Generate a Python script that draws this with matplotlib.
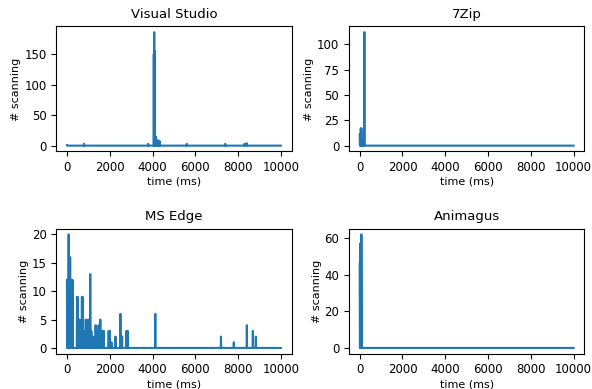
import numpy as np
import matplotlib
matplotlib.use("Agg")
import matplotlib.pyplot as plt

# spikes: (time in ms, number scanning); everything else is 0
vs_times = [0, 800, 3800, 4060, 4080, 4100, 4150, 4200, 4250, 4300, 4350, 5600, 7400, 8300, 8400]
vs_counts = [1, 3, 3, 150, 186, 155, 15, 10, 5, 8, 7, 3, 3, 3, 4]

zip_times = [0, 50, 80, 100, 150, 220]
zip_counts = [11, 17, 17, 5, 6, 112]

edge_times = [0, 20, 80, 150, 230, 260, 470, 500, 545, 590, 700, 730, 780, 875, 935, 1000,
              1090, 1120, 1140, 1220, 1280, 1340, 1400, 1480, 1560, 1640, 1720, 1950, 2000,
              2080, 2270, 2500, 2580, 2780, 2840, 4130, 7200, 7800, 8410, 8690, 8830]
edge_counts = [12, 5, 20, 16, 12, 12, 9, 9, 3, 5, 9, 9, 3, 5, 3, 5,
               13, 3, 3, 2, 1, 4, 3, 4, 5, 3, 3, 3, 3,
               1, 2, 6, 2, 3, 3, 6, 2, 1, 4, 3, 2]

ani_times = [0, 30, 60, 80]
ani_counts = [46, 57, 57, 62]

titles = ["Visual Studio", "7Zip", "MS Edge", "Animagus"]
spikes = [(vs_times, vs_counts), (zip_times, zip_counts),
          (edge_times, edge_counts), (ani_times, ani_counts)]
yticks = [[0, 50, 100, 150], [0, 25, 50, 75, 100], [0, 5, 10, 15, 20], [0, 20, 40, 60]]

t = np.arange(0, 10001, 10)

fig, axes = plt.subplots(2, 2, figsize=(5.92, 3.89), dpi=100)
for ax, title, (st, sc), yt in zip(axes.flat, titles, spikes, yticks):
    y = np.zeros(len(t))
    for ti, c in zip(st, sc):
        y[int(round(ti / 10))] = c
    ax.plot(t, y)
    ax.set_title(title, fontsize=9.5)
    ax.set_xlabel("time (ms)", fontsize=8, labelpad=2)
    ax.set_ylabel("# scanning", fontsize=8, labelpad=2)
    ax.tick_params(labelsize=8.5)
    ax.set_xticks([0, 2000, 4000, 6000, 8000, 10000])
    ax.set_yticks(yt)

fig.subplots_adjust(left=0.095, right=0.987, top=0.932, bottom=0.091,
                    wspace=0.244, hspace=0.62)
plt.savefig("out.png", dpi=100)
